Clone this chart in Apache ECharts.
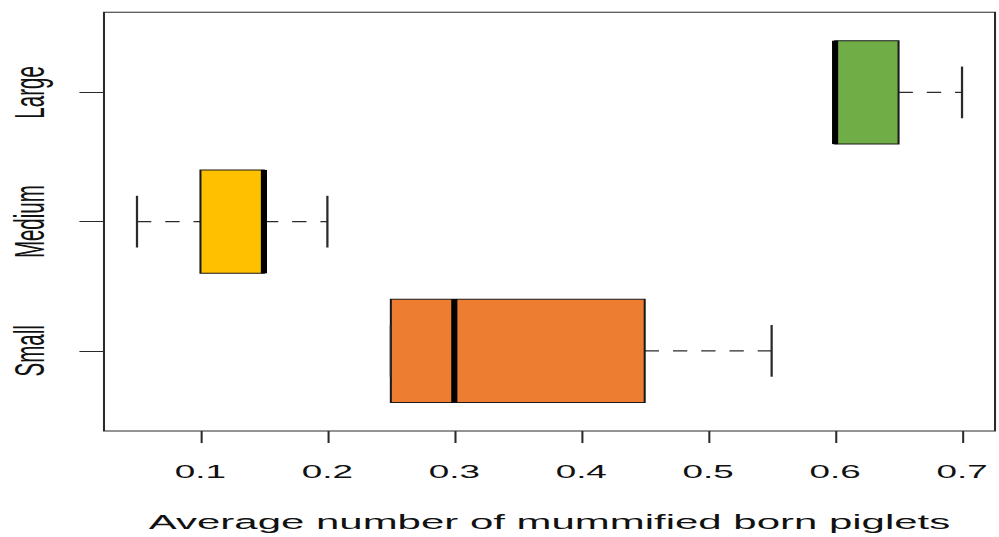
<!DOCTYPE html>
<html>
<head>
<meta charset="utf-8">
<title>Mummified born piglets by litter size</title>
<script src="https://cdn.jsdelivr.net/npm/echarts@6/dist/echarts.min.js"></script>
<style>
  html, body { margin: 0; padding: 0; background: #fff; overflow: hidden; }
  #stage { width: 999px; height: 537px; overflow: hidden; }
  /* the plot is laid out on a narrow canvas and widened, like a stretched R device */
  #chart { width: 488px; height: 537px; transform-origin: 0 0; transform: scaleX(2.04713); }
</style>
</head>
<body>
<div id="stage"><div id="chart"></div></div>
<script>
// Five-number summaries per group (bottom to top)
const categories   = ['Small', 'Medium', 'Large'];
const positions    = [1, 2, 3];
const minValues    = [0.25, 0.05, 0.60];
const q1Values     = [0.25, 0.10, 0.60];
const medianValues = [0.30, 0.15, 0.60];
const q3Values     = [0.45, 0.15, 0.65];
const maxValues    = [0.55, 0.20, 0.70];
const boxColors    = ['#ED7D31', '#FFC000', '#70AD47'];

const xTickValues = [0.1, 0.2, 0.3, 0.4, 0.5, 0.6, 0.7];
const xTickLabels = ['0.1', '0.2', '0.3', '0.4', '0.5', '0.6', '0.7'];
const xAxisTitle  = 'Average number of mummified born piglets';

const FONT = '"Liberation Sans", Arial, Helvetica, sans-serif';
const BOX_HALF = 0.4;   // half of box width, in group units
const CAP_HALF = 0.2;   // half of whisker cap length
const WHISKER_DASH = [7, 6.8];

const boxData = positions.map((p, i) => [
  p, minValues[i], q1Values[i], medianValues[i], q3Values[i], maxValues[i]
]);

function renderBox(params, api) {
  const pos = api.value(0);
  const lo = api.value(1), q1 = api.value(2), med = api.value(3),
        q3 = api.value(4), hi = api.value(5);

  const topLeft = api.coord([q1, pos + BOX_HALF]);
  const botRight = api.coord([q3, pos - BOX_HALF]);
  const pLo = api.coord([lo, pos]);
  const pQ1 = api.coord([q1, pos]);
  const pQ3 = api.coord([q3, pos]);
  const pHi = api.coord([hi, pos]);
  const pMed = api.coord([med, pos]);
  const capTop = api.coord([lo, pos + CAP_HALF])[1];
  const capBot = api.coord([lo, pos - CAP_HALF])[1];

  const whisker = { stroke: '#2a2a2a', lineWidth: 1.1, fill: null, lineDash: WHISKER_DASH };
  const solid = { stroke: '#2a2a2a', lineWidth: 1.1, fill: null };

  return {
    type: 'group',
    children: [
      { type: 'line', shape: { x1: pLo[0], y1: pLo[1], x2: pQ1[0], y2: pQ1[1] }, style: whisker },
      { type: 'line', shape: { x1: pQ3[0], y1: pQ3[1], x2: pHi[0], y2: pHi[1] }, style: whisker },
      {
        type: 'rect',
        shape: {
          x: topLeft[0], y: topLeft[1],
          width: botRight[0] - topLeft[0], height: botRight[1] - topLeft[1]
        },
        style: { fill: boxColors[params.dataIndex], stroke: '#1a1a1a', lineWidth: 1 }
      },
      { type: 'line', shape: { x1: pLo[0], y1: capTop, x2: pLo[0], y2: capBot }, style: solid },
      { type: 'line', shape: { x1: pHi[0], y1: capTop, x2: pHi[0], y2: capBot }, style: solid },
      {
        type: 'line',
        shape: { x1: pMed[0], y1: topLeft[1], x2: pMed[0], y2: botRight[1] },
        style: { stroke: '#000', lineWidth: 3, fill: null }
      }
    ]
  };
}

const chart = echarts.init(document.getElementById('chart'), null, { renderer: 'svg' });

chart.setOption({
  backgroundColor: '#fff',
  animation: false,
  grid: {
    left: 50.8, right: 1.94, top: 12.3, bottom: 106,
    show: true, borderColor: '#2a2a2a', borderWidth: 1,
    containLabel: false, outerBoundsMode: 'none'
  },
  xAxis: {
    type: 'value',
    min: 0.024, max: 0.726,
    axisLine: { show: false },
    splitLine: { show: false },
    axisTick: {
      show: true, customValues: xTickValues, length: 12,
      lineStyle: { color: '#2a2a2a', width: 1 }
    },
    axisLabel: {
      customValues: xTickValues,
      formatter: v => xTickLabels[Math.round(v * 10) - 1],
      margin: 31.5, fontSize: 18, color: '#111', fontFamily: FONT
    },
    name: xAxisTitle,
    nameLocation: 'middle',
    nameGap: 80.5,
    nameTextStyle: { fontSize: 20.5, color: '#111', fontFamily: FONT }
  },
  yAxis: {
    type: 'value',
    min: 0.38, max: 3.62,
    axisLine: { show: false },
    splitLine: { show: false },
    axisTick: {
      show: true, customValues: positions, length: 12,
      lineStyle: { color: '#2a2a2a', width: 1 }
    },
    axisLabel: {
      customValues: positions,
      formatter: v => categories[Math.round(v) - 1],
      rotate: 90, margin: 26, fontSize: 20.5, color: '#111', fontFamily: FONT
    }
  },
  series: [{
    type: 'custom',
    name: 'Mummified born piglets',
    renderItem: renderBox,
    encode: { x: [1, 2, 3, 4, 5], y: 0 },
    data: boxData,
    clip: false
  }]
});
</script>
</body>
</html>
